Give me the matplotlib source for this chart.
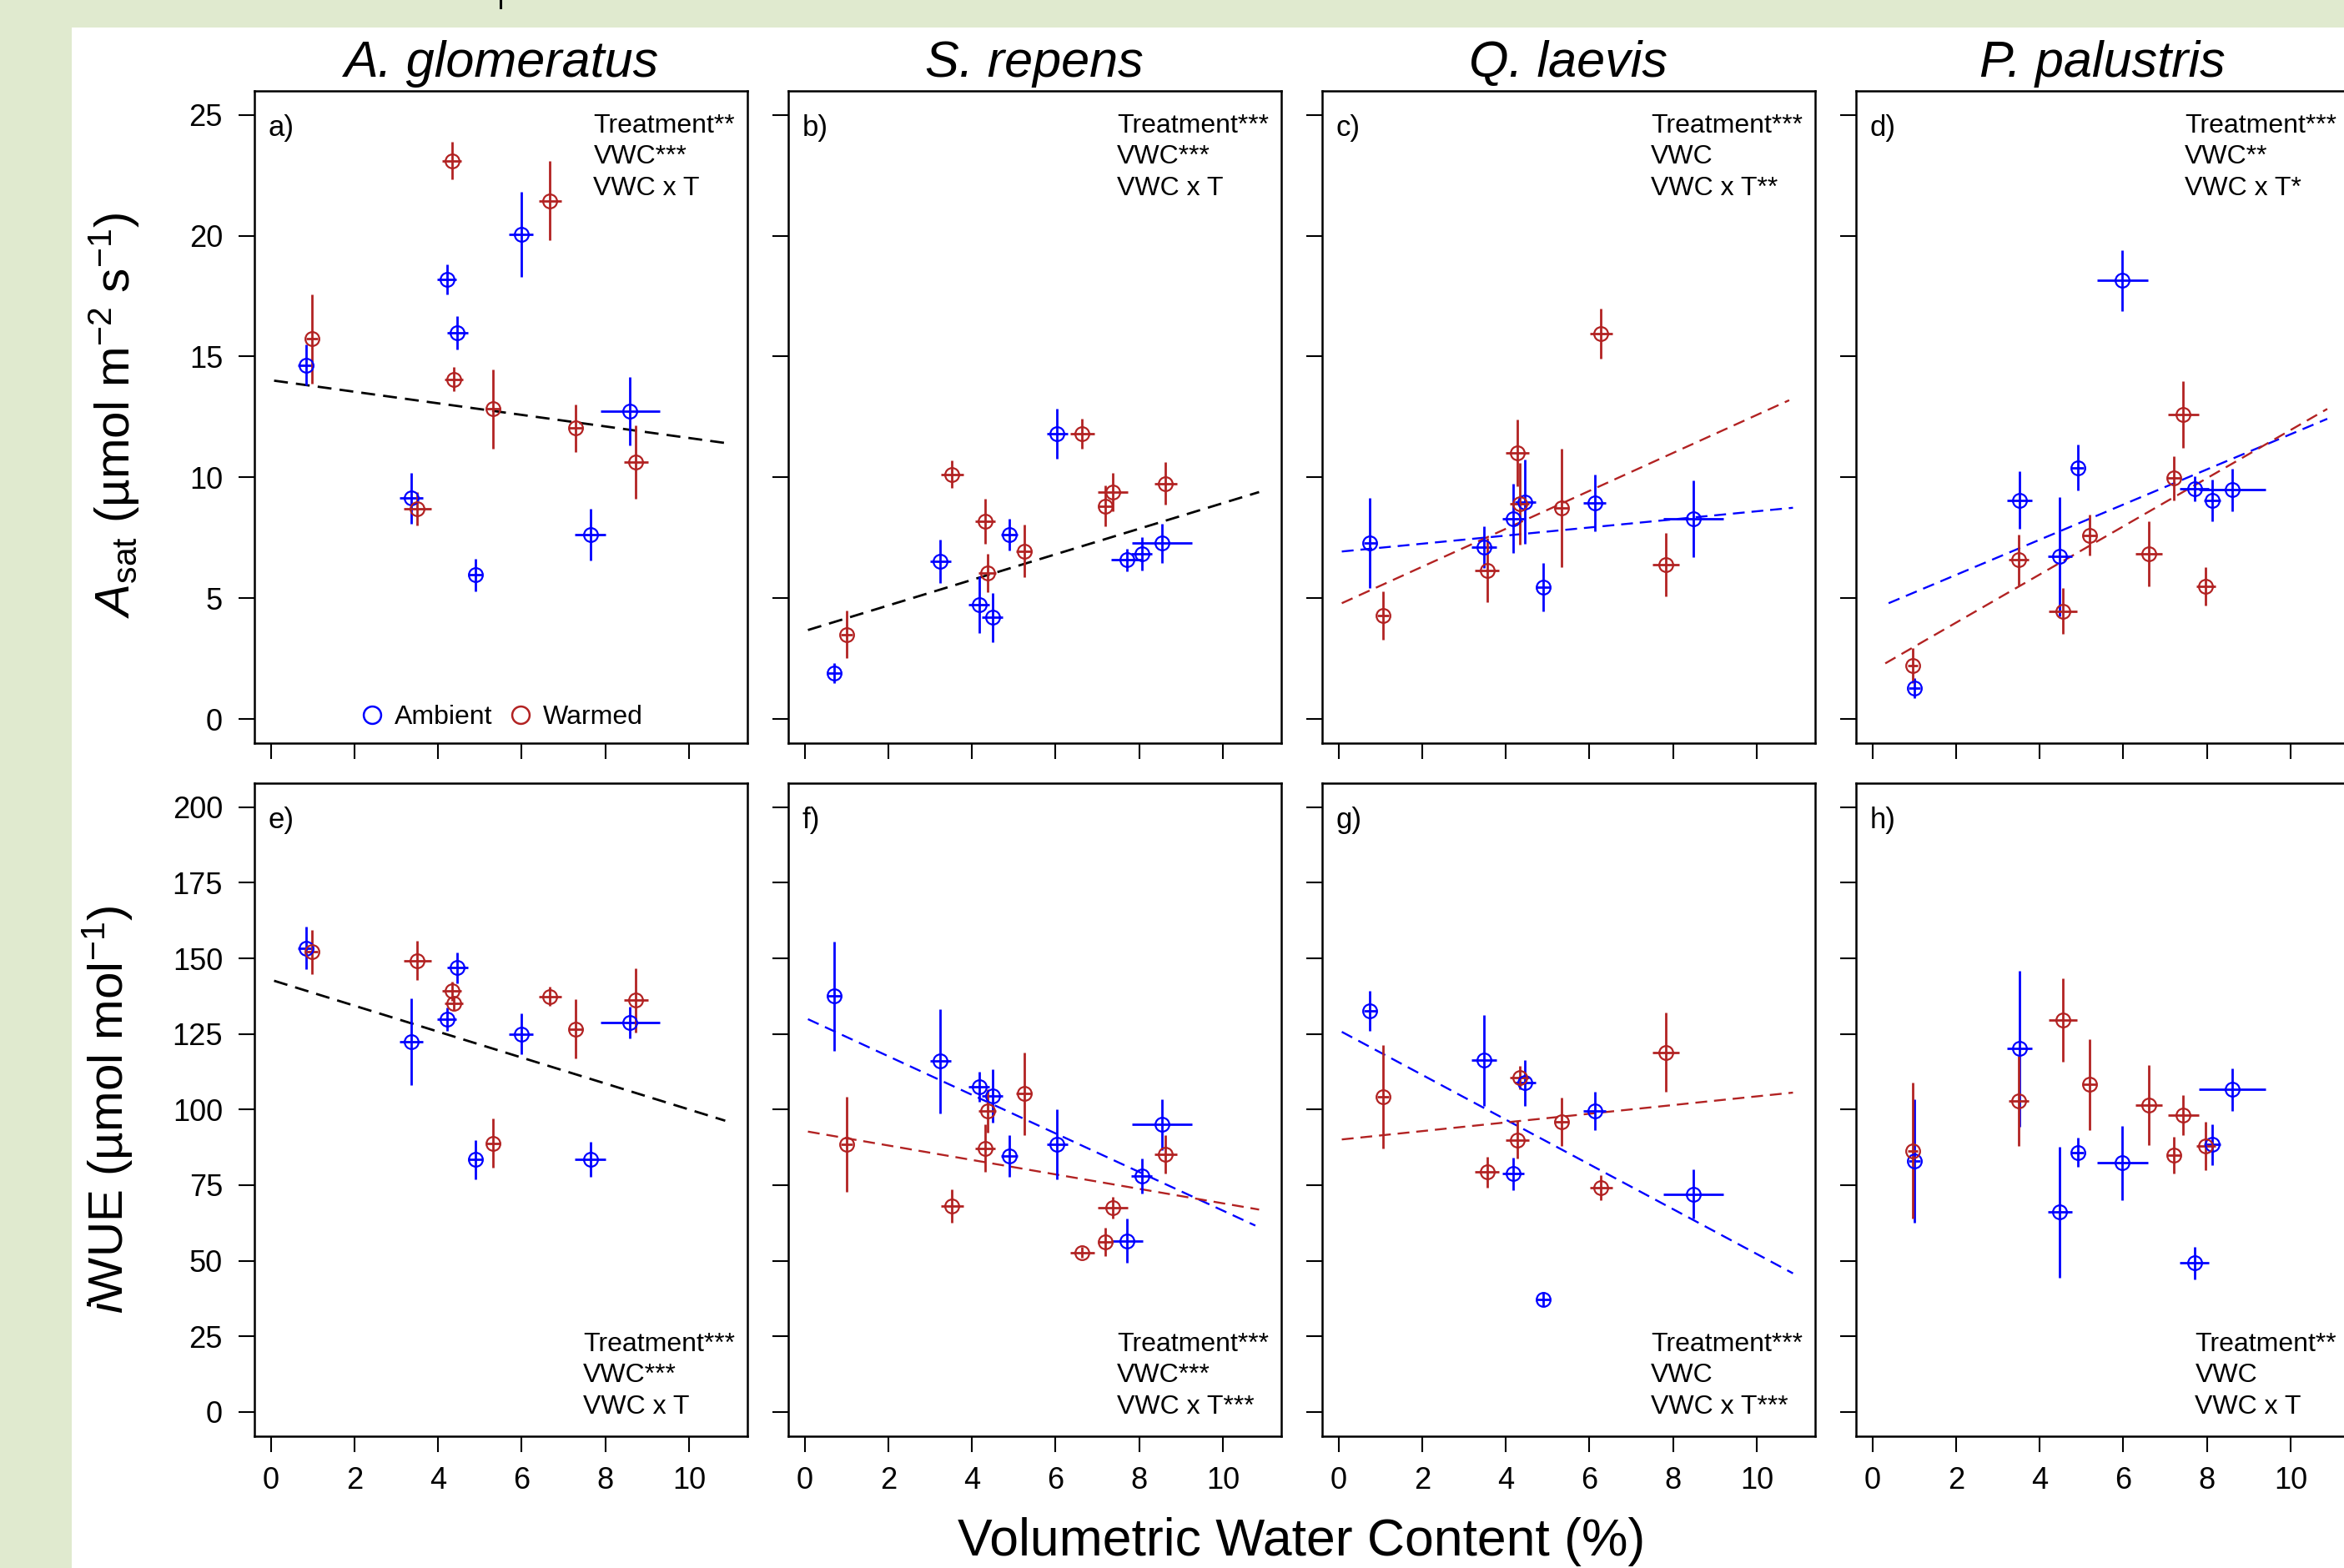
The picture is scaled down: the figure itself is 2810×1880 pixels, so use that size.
import matplotlib.pyplot as plt
from matplotlib.lines import Line2D
from matplotlib.patches import Rectangle

plt.rcParams['font.family'] = ['Liberation Sans', 'DejaVu Sans']
plt.rcParams['mathtext.fontset'] = 'custom'
plt.rcParams['mathtext.rm'] = 'Liberation Sans'
plt.rcParams['mathtext.it'] = 'Liberation Sans:italic'

species = ['A. glomeratus', 'S. repens', 'Q. laevis', 'P. palustris']

# volumetric water content (%) and its SE, per species
amb_vwc = [[0.84, 3.36, 4.21, 4.46, 4.89, 5.99, 7.64, 8.59],
           [0.71, 3.25, 4.17, 4.49, 4.89, 6.04, 7.71, 8.06, 8.54],
           [0.75, 3.48, 4.17, 4.46, 4.90, 6.13, 8.48],
           [1.01, 3.52, 4.48, 4.91, 5.98, 7.70, 8.13, 8.60]]
amb_vwc_se = [[0.19, 0.28, 0.23, 0.25, 0.17, 0.29, 0.36, 0.71],
              [0.17, 0.25, 0.25, 0.25, 0.20, 0.25, 0.37, 0.25, 0.72],
              [0.15, 0.29, 0.26, 0.25, 0.17, 0.27, 0.72],
              [0.14, 0.30, 0.29, 0.15, 0.61, 0.34, 0.20, 0.80]]
warm_vwc = [[0.98, 3.51, 4.33, 4.37, 5.32, 6.68, 7.30, 8.73],
            [1.01, 3.53, 4.31, 4.37, 5.25, 6.64, 7.20, 7.37, 8.63],
            [1.06, 3.55, 4.28, 4.33, 5.33, 6.28, 7.83],
            [0.97, 3.50, 4.55, 5.19, 6.61, 7.22, 7.44, 7.97]]
warm_vwc_se = [[0.14, 0.33, 0.23, 0.22, 0.17, 0.27, 0.17, 0.29],
               [0.14, 0.27, 0.24, 0.21, 0.19, 0.29, 0.17, 0.35, 0.27],
               [0.14, 0.28, 0.28, 0.23, 0.17, 0.27, 0.32],
               [0.12, 0.23, 0.34, 0.17, 0.32, 0.16, 0.36, 0.23]]

# Asat
amb_asat = [[14.64, 9.13, 18.19, 15.99, 5.96, 20.06, 7.64, 12.74],
            [1.90, 6.53, 4.73, 4.20, 7.64, 11.80, 6.58, 6.83, 7.28],
            [7.28, 7.11, 8.30, 8.99, 5.45, 8.94, 8.29],
            [1.27, 9.06, 6.72, 10.40, 18.14, 9.52, 9.04, 9.48]]
amb_asat_se = [[0.85, 1.05, 0.62, 0.69, 0.68, 1.77, 1.07, 1.41],
               [0.42, 0.90, 1.16, 1.02, 0.66, 1.04, 0.46, 0.69, 0.81],
               [1.87, 0.86, 1.43, 1.74, 1.00, 1.18, 1.58],
               [0.42, 1.19, 2.46, 0.95, 1.26, 0.51, 0.86, 0.88]]
warm_asat = [[15.73, 8.71, 23.10, 14.06, 12.83, 21.45, 12.03, 10.64],
             [3.50, 10.13, 8.18, 6.05, 6.95, 11.82, 8.81, 9.39, 9.75],
             [4.28, 6.16, 11.01, 8.90, 8.74, 15.94, 6.39],
             [2.22, 6.58, 4.47, 7.60, 6.83, 9.96, 12.60, 5.49]]
warm_asat_se = [[1.85, 0.69, 0.77, 0.50, 1.64, 1.64, 0.98, 1.52],
                [0.99, 0.57, 0.94, 0.79, 1.09, 0.62, 0.85, 0.80, 0.87],
                [0.99, 1.34, 1.37, 1.70, 2.46, 1.03, 1.30],
                [0.72, 1.06, 0.94, 0.84, 1.35, 0.91, 1.38, 0.80]]

# iWUE
amb_iwue = [[153.4, 122.5, 129.9, 146.9, 83.5, 125.0, 83.5, 128.8],
            [137.5, 116.0, 107.6, 104.5, 84.6, 88.6, 56.5, 78.0, 95.1],
            [132.7, 116.3, 78.7, 108.8, 37.3, 99.6, 72.0],
            [83.0, 120.1, 66.1, 85.8, 82.4, 49.2, 88.4, 106.6]]
amb_iwue_se = [[7.0, 14.3, 3.9, 5.1, 6.5, 6.7, 5.8, 5.3],
               [18.0, 17.3, 4.9, 8.7, 6.9, 11.6, 7.3, 5.9, 8.4],
               [6.7, 15.1, 5.5, 7.7, 2.3, 6.3, 8.2],
               [20.4, 25.7, 21.7, 4.8, 12.3, 5.4, 6.8, 7.0]]
warm_iwue = [[152.1, 149.3, 139.2, 135.0, 88.9, 137.4, 126.7, 136.1],
             [88.4, 68.1, 87.2, 99.6, 105.2, 52.7, 56.2, 67.5, 85.1],
             [104.2, 79.3, 90.0, 110.5, 95.9, 74.2, 118.9],
             [86.3, 102.9, 129.6, 108.3, 101.5, 84.9, 98.1, 87.9]]
warm_iwue_se = [[7.2, 6.5, 3.2, 2.1, 8.2, 3.2, 9.8, 10.7],
                [15.7, 5.5, 7.9, 7.2, 13.6, 1.8, 4.6, 3.7, 6.3],
                [17.2, 5.1, 6.2, 3.9, 8.0, 4.2, 13.1],
                [22.5, 14.9, 13.9, 15.0, 13.2, 6.0, 6.6, 8.0]]

# fitted lines: (group, x start, y start, x end, y end)
fit_asat = [[('all', 0.08, 14.00, 10.87, 11.42)],
            [('all', 0.08, 3.68, 10.87, 9.39)],
            [('amb', 0.08, 6.93, 10.87, 8.74), ('warm', 0.08, 4.79, 10.78, 13.19)],
            [('amb', 0.39, 4.79, 10.88, 12.42), ('warm', 0.31, 2.30, 10.88, 12.83)]]
fit_iwue = [[('all', 0.08, 142.6, 10.87, 96.3)],
            [('amb', 0.08, 129.9, 10.78, 61.6), ('warm', 0.08, 92.7, 10.87, 66.9)],
            [('amb', 0.08, 125.7, 10.87, 45.8), ('warm', 0.08, 90.1, 10.87, 105.6)],
            []]

stats_asat = [['Treatment**', 'VWC***', 'VWC x T'],
              ['Treatment***', 'VWC***', 'VWC x T'],
              ['Treatment***', 'VWC', 'VWC x T**'],
              ['Treatment***', 'VWC**', 'VWC x T*']]
stats_iwue = [['Treatment***', 'VWC***', 'VWC x T'],
              ['Treatment***', 'VWC***', 'VWC x T***'],
              ['Treatment***', 'VWC', 'VWC x T***'],
              ['Treatment**', 'VWC', 'VWC x T']]

letters = ['a)', 'b)', 'c)', 'd)', 'e)', 'f)', 'g)', 'h)']
colors = {'amb': '#0000ff', 'warm': '#b22222', 'all': 'black'}

W, H = 2810, 1880
fig = plt.figure(figsize=(W / 100, H / 100), dpi=100, facecolor='#e0eacf')
fig.add_artist(Rectangle((86 / W, 0), 1, (H - 33) / H, transform=fig.transFigure,
                         facecolor='white', edgecolor='none', zorder=-5))
fig.add_artist(Line2D([600 / W, 600 / W], [1, 1 - 9 / H], color='black', lw=2.2,
                      transform=fig.transFigure))

lefts = [304.5, 944.5, 1584.5, 2224.5]
pw = 591.5
rows = [(108.7, 891.0), (938.9, 1721.7)]

for r in range(2):
    top, bot = rows[r]
    for c in range(4):
        ax = fig.add_axes([lefts[c] / W, 1 - bot / H, pw / W, (bot - top) / H])
        if r == 0:
            ya, yae, yw, ywe = amb_asat[c], amb_asat_se[c], warm_asat[c], warm_asat_se[c]
            fits, stats = fit_asat[c], stats_asat[c]
        else:
            ya, yae, yw, ywe = amb_iwue[c], amb_iwue_se[c], warm_iwue[c], warm_iwue_se[c]
            fits, stats = fit_iwue[c], stats_iwue[c]

        for g, x0, y0, x1, y1 in fits:
            ax.plot([x0, x1], [y0, y1], color=colors[g], lw=2.0 if g == 'all' else 1.7,
                    ls=(0, (6, 3.5)), zorder=2)

        for xs, xe, ys, ye, col in [(amb_vwc[c], amb_vwc_se[c], ya, yae, colors['amb']),
                                    (warm_vwc[c], warm_vwc_se[c], yw, ywe, colors['warm'])]:
            ax.errorbar(xs, ys, xerr=xe, yerr=ye, fmt='o', ms=12, mfc='none', mec=col,
                        mew=1.6, ecolor=col, elinewidth=2.0, capsize=0, zorder=3)

        ax.set_xlim(-0.4, 11.4)
        ax.set_xticks(range(0, 11, 2))
        if r == 0:
            ax.set_ylim(-1, 26)
            ax.set_yticks(range(0, 26, 5))
        else:
            ax.set_ylim(-8, 208)
            ax.set_yticks(range(0, 201, 25))
        ax.tick_params(direction='out', length=14, width=1.5, labelsize=26, pad=12,
                       labelbottom=(r == 1), labelleft=(c == 0))
        ax.tick_params(axis='y', pad=13)
        for s in ax.spines.values():
            s.set_linewidth(1.8)

        ax.text(17 / pw, 1 - 45 / (bot - top), letters[r * 4 + c], transform=ax.transAxes,
                fontsize=25, ha='left', va='center')
        if r == 0:
            ax.text(576.5 / pw, 1 - 27 / (bot - top), '\n'.join(stats), transform=ax.transAxes,
                    fontsize=23, ha='right', va='top', multialignment='left', linespacing=1.33)
            ax.set_title(species[c], fontsize=44, fontstyle='italic', pad=12)
        else:
            ax.text(576.5 / pw, 20 / (bot - top), '\n'.join(stats), transform=ax.transAxes,
                    fontsize=23, ha='right', va='bottom', multialignment='left', linespacing=1.33)

        if r == 0 and c == 0:
            handles = [Line2D([], [], marker='o', ls='none', ms=15, mfc='none', mew=1.8,
                              mec=colors['amb']),
                       Line2D([], [], marker='o', ls='none', ms=15, mfc='none', mew=1.8,
                              mec=colors['warm'])]
            ax.legend(handles, ['Ambient', 'Warmed'], ncol=2, loc='lower center',
                      bbox_to_anchor=(0.5, -0.016), frameon=False, fontsize=23,
                      handlelength=1.0, handletextpad=0.35, columnspacing=0.55)

fig.text(137.5 / W, 1 - 498 / H, r'$A_{\mathrm{sat}}$ (µmol m$^{-2}$ s$^{-1}$)',
         rotation=90, ha='center', va='center', fontsize=42)
fig.text(128.5 / W, 1 - 1330 / H, r'$i$WUE (µmol mol$^{-1}$)',
         rotation=90, ha='center', va='center', fontsize=42)
fig.text(1560 / W, 1 - 1849 / H, 'Volumetric Water Content (%)',
         ha='center', va='center', fontsize=45)

fig.savefig('out.png', dpi=100, facecolor=fig.get_facecolor())
